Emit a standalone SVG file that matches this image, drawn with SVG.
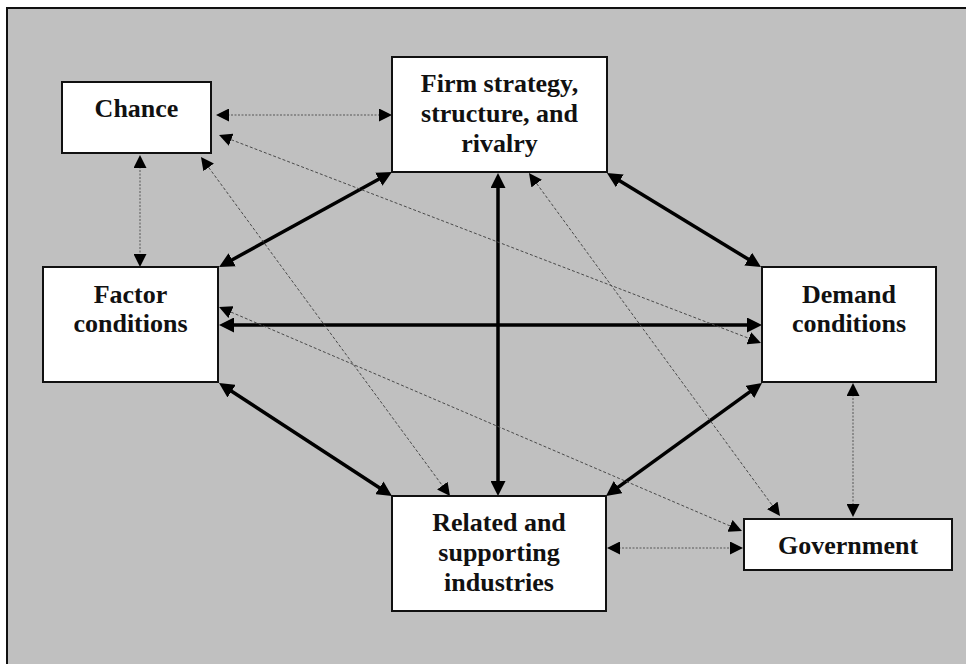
<svg xmlns="http://www.w3.org/2000/svg" width="966" height="664" viewBox="0 0 966 664">
  <defs>
    <style>
      .frame { fill: #c0c0c0; stroke: #111; stroke-width: 2; }
      .box { fill: #ffffff; stroke: #111; stroke-width: 2; }
      .label { font-family: "Liberation Serif", "Times New Roman", serif; font-weight: bold; font-size: 26px; fill: #111; text-anchor: middle; }
      .strong { stroke: #000; stroke-width: 3.5; fill: none; marker-start: url(#headBig); marker-end: url(#headBig); }
      .minor { stroke: #7a7a7a; stroke-width: 1.5; stroke-dasharray: 2 1.5; fill: none; marker-start: url(#headSmall); marker-end: url(#headSmall); }
      .diag { stroke: #4a4a4a; stroke-width: 1; stroke-dasharray: 3 2; fill: none; marker-start: url(#headSmall); marker-end: url(#headSmall); }
    </style>
    <!-- solid heads; line ends stop short of the tip so the stroke never pokes past it -->
    <marker id="headBig" markerUnits="userSpaceOnUse" markerWidth="15" markerHeight="15" refX="5" refY="7.5" orient="auto-start-reverse" viewBox="0 0 15 15">
      <path d="M0,0 L15,7.5 L0,15 z" fill="#000"/>
    </marker>
    <marker id="headSmall" markerUnits="userSpaceOnUse" markerWidth="13" markerHeight="13" refX="5" refY="6.5" orient="auto-start-reverse" viewBox="0 0 13 13">
      <path d="M0,0 L13,6.5 L0,13 z" fill="#000"/>
    </marker>
  </defs>

  <rect x="0" y="0" width="966" height="664" fill="#ffffff"/>
  <rect class="frame" x="7" y="8" width="970" height="670"/>

  <g id="connectors">
    <!-- thick mutual links of the diamond -->
    <line class="strong" x1="227.8" y1="262.2" x2="383.2" y2="176.8"/>
    <line class="strong" x1="615.5" y1="178.2" x2="752.5" y2="261.8"/>
    <line class="strong" x1="229" y1="325" x2="752" y2="325"/>
    <line class="strong" x1="498" y1="183" x2="498" y2="486"/>
    <line class="strong" x1="227.4" y1="388.5" x2="383.6" y2="490.5"/>
    <line class="strong" x1="614.1" y1="490.1" x2="753.9" y2="388.9"/>

    <!-- short dotted links -->
    <line class="minor" x1="224" y1="115" x2="384" y2="115"/>
    <line class="minor" x1="140" y1="163" x2="140" y2="259"/>
    <line class="minor" x1="853" y1="391" x2="853" y2="509"/>
    <line class="minor" x1="615" y1="548" x2="735" y2="548"/>

    <!-- long diagonal dashed links -->
    <line class="diag" x1="226.5" y1="137.9" x2="753.5" y2="340.1"/>
    <line class="diag" x1="205.7" y1="163.4" x2="445.3" y2="489.6"/>
    <line class="diag" x1="226.4" y1="310.1" x2="734.6" y2="527.9"/>
    <line class="diag" x1="533.7" y1="179.5" x2="775.3" y2="509.5"/>
  </g>

  <g id="chance">
    <rect class="box" x="62" y="82" width="149" height="71"/>
    <text class="label" x="136.5" y="117">Chance</text>
  </g>

  <g id="firm">
    <rect class="box" x="392" y="57" width="215" height="115"/>
    <text class="label" x="499.5" y="91.5">Firm strategy,</text>
    <text class="label" x="499.5" y="121.5">structure, and</text>
    <text class="label" x="499.5" y="151.5">rivalry</text>
  </g>

  <g id="factor">
    <rect class="box" x="43" y="267" width="175" height="115"/>
    <text class="label" x="130.5" y="302.5">Factor</text>
    <text class="label" x="130.5" y="331.5">conditions</text>
  </g>

  <g id="demand">
    <rect class="box" x="762" y="267" width="174" height="115"/>
    <text class="label" x="849" y="302.5">Demand</text>
    <text class="label" x="849" y="331.5">conditions</text>
  </g>

  <g id="related">
    <rect class="box" x="392" y="496" width="214" height="115"/>
    <text class="label" x="499" y="531">Related and</text>
    <text class="label" x="499" y="561">supporting</text>
    <text class="label" x="499" y="591">industries</text>
  </g>

  <g id="government">
    <rect class="box" x="744" y="519" width="208" height="51"/>
    <text class="label" x="848" y="554">Government</text>
  </g>
</svg>
